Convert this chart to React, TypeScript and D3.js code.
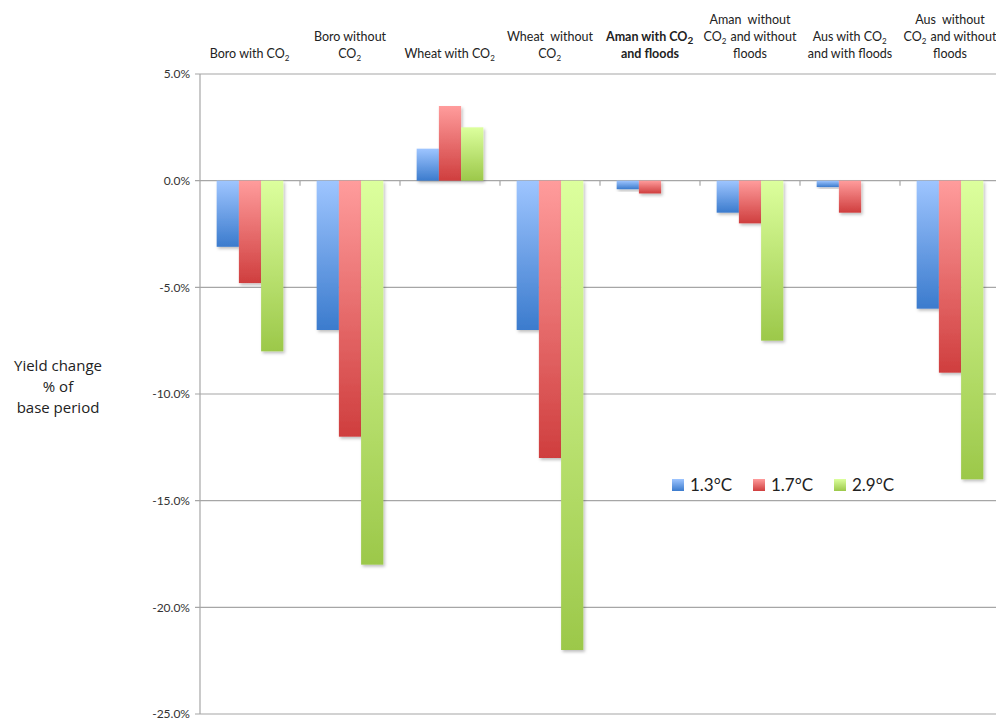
import React from "react";
import * as d3 from "d3";

const categories: string[][] = [
  ["Boro with CO₂"],
  ["Boro without", "CO₂"],
  ["Wheat with CO₂"],
  ["Wheat  without", "CO₂"],
  ["Aman with CO₂", "and floods"],
  ["Aman  without", "CO₂ and without", "floods"],
  ["Aus with CO₂", "and with floods"],
  ["Aus  without", "CO₂ and without", "floods"],
];
const boldCategory = [false, false, false, false, true, false, false, false];

const seriesNames = ["1.3°C", "1.7°C", "2.9°C"];
const values13 = [-3.1, -7.0, 1.5, -7.0, -0.4, -1.5, -0.3, -6.0];
const values17 = [-4.8, -12.0, 3.5, -13.0, -0.6, -2.0, -1.5, -9.0];
const values29 = [-8.0, -18.0, 2.5, -22.0, 0, -7.5, 0, -14.0];
const seriesValues = [values13, values17, values29];
const yTicks = [5, 0, -5, -10, -15, -20, -25];

const gradTop = ["#9ec5ff", "#ff9c9c", "#dcff9d"];
const gradBottom = ["#3b7bcd", "#cf3e3e", "#9cc84a"];

function renderLabel(s: string, bold: boolean) {
  const parts = s.split("₂");
  const out: React.ReactNode[] = [];
  parts.forEach((p, i) => {
    out.push(<tspan key={"t" + i}>{p}</tspan>);
    if (i < parts.length - 1) {
      out.push(
        <tspan key={"s" + i} fontSize={bold ? 10 : 8} dy={3}>
          2
        </tspan>
      );
      out.push(<tspan key={"r" + i} dy={-3}>{"\u200A"}</tspan>);
    }
  });
  return out;
}

export default function App() {
  const W = 996;
  const H = 720;
  const x0 = 200;
  const x1 = 1000;
  const y = d3.scaleLinear().domain([-25, 5]).range([714, 74]);
  const xCat = d3
    .scaleBand<number>()
    .domain(categories.map((_, i) => i))
    .range([x0, x1])
    .paddingInner(0)
    .paddingOuter(0);
  const xSer = d3
    .scaleBand<number>()
    .domain([0, 1, 2])
    .range([0, xCat.bandwidth()])
    .paddingInner(0)
    .paddingOuter(0.75);

  const lineHeight = 17;
  const lastBaseline = 58;

  return (
    <svg
      width={W}
      height={H}
      style={{ position: "absolute", left: 0, top: 0, background: "#fff" }}
      fontFamily="Lato, 'Open Sans', sans-serif"
    >
      <defs>
        {seriesNames.map((_, i) => (
          <linearGradient key={i} id={"g" + i} x1="0" y1="0" x2="0" y2="1">
            <stop offset="0" stopColor={gradTop[i]} />
            <stop offset="1" stopColor={gradBottom[i]} />
          </linearGradient>
        ))}
        <filter id="shadow" x="-20%" y="-20%" width="150%" height="150%">
          <feDropShadow dx="1.5" dy="2" stdDeviation="1.5" floodColor="#000" floodOpacity="0.25" />
        </filter>
      </defs>

      {/* gridlines */}
      {yTicks.map((t) => (
        <g key={t}>
          <line x1={x0 - 5} x2={W} y1={y(t)} y2={y(t)} stroke="#a6a6a6" strokeWidth={1.2} />
          <text
            x={190}
            y={y(t)}
            dy="0.35em"
            textAnchor="end"
            fontSize={12}
            fill="#333"
          >
            {t.toFixed(1) + "%"}
          </text>
        </g>
      ))}
      {/* y axis */}
      <line x1={x0} x2={x0} y1={y(5)} y2={y(-25)} stroke="#a6a6a6" strokeWidth={1.2} />
      {/* category ticks on zero line */}
      {categories.map((_, i) => (
        <line
          key={i}
          x1={(xCat(i) as number) + xCat.bandwidth()}
          x2={(xCat(i) as number) + xCat.bandwidth()}
          y1={y(0)}
          y2={y(0) + 5}
          stroke="#a6a6a6"
          strokeWidth={1.2}
        />
      ))}

      {/* bars */}
      {categories.map((_, ci) =>
        seriesValues.map((vals, si) => {
          const v = vals[ci];
          if (v === 0) return null;
          const bx = (xCat(ci) as number) + (xSer(si) as number);
          const top = y(Math.max(0, v));
          const bot = y(Math.min(0, v));
          return (
            <rect
              key={ci + "-" + si}
              x={bx}
              y={top}
              width={xSer.bandwidth()}
              height={bot - top}
              fill={`url(#g${si})`}
              filter="url(#shadow)"
            />
          );
        })
      )}

      {/* category labels */}
      {categories.map((lines, ci) => {
        const cx = (xCat(ci) as number) + xCat.bandwidth() / 2;
        const n = lines.length;
        return (
          <text
            key={ci}
            textAnchor="middle"
            fontSize={12.5}
            fill="#222"
            fontWeight={boldCategory[ci] ? "bold" : "normal"}
            style={{ whiteSpace: "pre" }}
          >
            {lines.map((l, li) => (
              <tspan key={li} x={cx} y={lastBaseline - (n - 1 - li) * lineHeight}>
                {renderLabel(l, boldCategory[ci])}
              </tspan>
            ))}
          </text>
        );
      })}

      {/* y axis title */}
      <text textAnchor="middle" fontSize={15} fill="#222" fontFamily="'Open Sans', sans-serif">
        <tspan x={58} y={371}>Yield change</tspan>
        <tspan x={58} y={392}>% of</tspan>
        <tspan x={58} y={413}>base period</tspan>
      </text>

      {/* legend */}
      {seriesNames.map((name, i) => {
        const lx = 672 + i * 81;
        return (
          <g key={name}>
            <rect x={lx} y={479} width={12} height={12} fill={`url(#g${i})`} />
            <text x={lx + 18} y={485} dy="0.36em" fontSize={17} fill="#222">
              {name}
            </text>
          </g>
        );
      })}
    </svg>
  );
}
